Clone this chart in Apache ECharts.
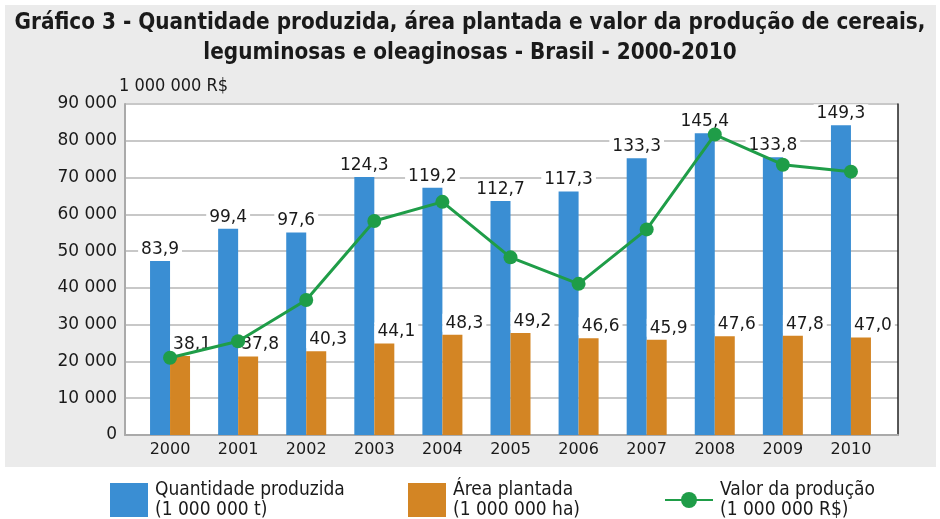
<!DOCTYPE html>
<html>
<head>
<meta charset="utf-8">
<script src="https://cdn.jsdelivr.net/npm/echarts@6/dist/echarts.min.js"></script>
<style>
  html, body { margin: 0; padding: 0; background: #fff; }
  #bg { position: absolute; left: 5px; top: 5px; width: 931px; height: 462px; background: #ebebeb; }
  #chart { position: absolute; left: 0; top: 0; width: 940px; height: 519px; }
</style>
</head>
<body>
<div id="bg"></div>
<div id="chart"></div>
<script>
// data
const years = ['2000', '2001', '2002', '2003', '2004', '2005', '2006', '2007', '2008', '2009', '2010']
const quantidade = [83.9, 99.4, 97.6, 124.3, 119.2, 112.7, 117.3, 133.3, 145.4, 133.8, 149.3]
const area = [38.1, 37.8, 40.3, 44.1, 48.3, 49.2, 46.6, 45.9, 47.6, 47.8, 47.0]
const valor = [21000, 25500, 36700, 58200, 63400, 48300, 41100, 55900, 81700, 73500, 71600]

const wide = 'DejaVu Sans'
const narrow = '"Liberation Sans Narrow", "DejaVu Sans Condensed", sans-serif'

const fmtComma = v => v.toFixed(1).replace('.', ',')
const fmtThousands = v => String(v).replace(/\B(?=(\d{3})+(?!\d))/g, ' ')

const labelBox = {
  show: true,
  position: 'top',
  distance: 3,
  color: '#1a1a1a',
  fontFamily: wide,
  fontSize: 17,
  backgroundColor: '#fff',
  padding: [1, 3, 0, 3],
  formatter: p => fmtComma(p.value)
}

const legendText = { fontFamily: narrow, fontSize: 19, lineHeight: 20, color: '#1a1a1a', padding: [0, 0, 0, 2] }

const chart = echarts.init(document.getElementById('chart'))
chart.setOption({
  backgroundColor: 'transparent',
  animation: false,
  title: {
    text: 'Gráfico 3 - Quantidade produzida, área plantada e valor da produção de cereais,\nleguminosas e oleaginosas - Brasil - 2000-2010',
    left: 'center',
    top: 8,
    padding: 0,
    textStyle: {
      fontFamily: narrow,
      fontWeight: 'bold',
      fontSize: 22.3,
      lineHeight: 30,
      color: '#1a1a1a',
      align: 'center'
    }
  },
  legend: [{
    data: ['Quantidade produzida\n(1 000 000 t)'],
    left: 110, top: 480, padding: 0,
    icon: 'rect', itemWidth: 38, itemHeight: 34,
    textStyle: legendText
  }, {
    data: ['Área plantada\n(1 000 000 ha)'],
    left: 408, top: 480, padding: 0,
    icon: 'rect', itemWidth: 38, itemHeight: 34,
    textStyle: legendText
  }, {
    data: ['Valor da produção\n(1 000 000 R$)'],
    left: 664, top: 480, padding: 0,
    itemWidth: 48, itemHeight: 20,
    textStyle: legendText
  }],
  grid: [
    { left: 136, right: 55, top: 104, bottom: 84 },
    { left: 125, right: 42, top: 104, bottom: 84, show: true, backgroundColor: '#fff', borderWidth: 0 }
  ],
  xAxis: [{
    type: 'category',
    gridIndex: 0,
    data: years,
    axisLine: { show: false },
    axisTick: { show: false },
    axisLabel: { color: '#1a1a1a', fontFamily: wide, fontSize: 16, margin: 7 }
  }, {
    type: 'value',
    gridIndex: 1,
    min: 0, max: 1,
    axisLine: { show: true, lineStyle: { color: '#aaa', width: 2 } },
    axisTick: { show: false },
    axisLabel: { show: false },
    splitLine: { show: false }
  }],
  yAxis: [{
    type: 'value', gridIndex: 0, min: 0, max: 159.5, show: false
  }, {
    type: 'value', gridIndex: 0, min: 0, max: 90000, show: false
  }, {
    type: 'value',
    gridIndex: 1,
    min: 0, max: 90000, interval: 10000,
    name: '1 000 000 R$',
    nameLocation: 'end',
    nameGap: 8,
    nameTextStyle: { fontFamily: narrow, fontSize: 18, color: '#1a1a1a', align: 'left', padding: [0, 0, 0, -6] },
    axisLine: { show: true, lineStyle: { color: '#aaa', width: 2 } },
    axisTick: { show: false },
    axisLabel: { color: '#1a1a1a', fontFamily: wide, fontSize: 17, margin: 8, formatter: fmtThousands },
    splitLine: { lineStyle: { color: '#c8c8c8', width: 2 } }
  }, {
    type: 'value',
    gridIndex: 1,
    position: 'right',
    min: 0, max: 90000,
    axisLine: { show: true, lineStyle: { color: '#222', width: 1.5 } },
    axisTick: { show: false },
    axisLabel: { show: false },
    splitLine: { show: false }
  }],
  series: [{
    name: 'Quantidade produzida\n(1 000 000 t)',
    type: 'bar',
    xAxisIndex: 0, yAxisIndex: 0,
    data: quantidade,
    barWidth: 20,
    barGap: '0%',
    itemStyle: { color: '#3a8ed3' },
    label: labelBox,
    z: 3
  }, {
    name: 'Área plantada\n(1 000 000 ha)',
    type: 'bar',
    xAxisIndex: 0, yAxisIndex: 0,
    data: area,
    barWidth: 20,
    itemStyle: { color: '#d38524' },
    label: Object.assign({}, labelBox, { offset: [12, 0] }),
    z: 3
  }, {
    name: 'Valor da produção\n(1 000 000 R$)',
    type: 'line',
    xAxisIndex: 0, yAxisIndex: 1,
    data: valor,
    symbol: 'circle',
    symbolSize: 14,
    lineStyle: { color: '#1f9d48', width: 3 },
    itemStyle: { color: '#1f9d48' },
    z: 5
  }]
})
</script>
</body>
</html>
